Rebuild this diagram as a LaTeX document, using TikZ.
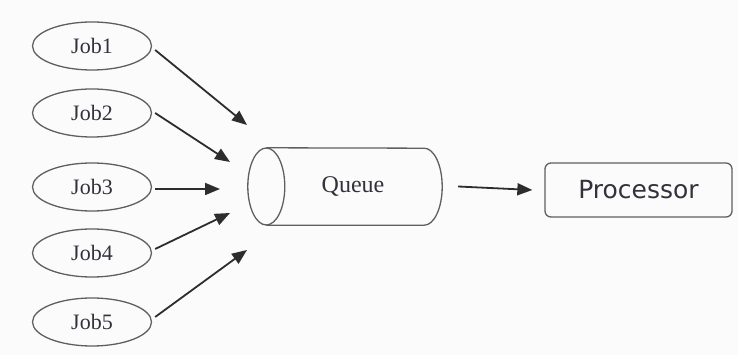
\documentclass[tikz,border=0pt]{standalone}
\usepackage{fontspec}
\setmainfont{Liberation Serif}
\newfontfamily\procfont{DejaVu Sans}
\usetikzlibrary{arrows.meta,shapes.geometric}
\definecolor{bgcol}{RGB}{251,251,251}
\definecolor{edgecol}{RGB}{95,95,95}
\definecolor{arrcol}{RGB}{45,45,45}
\definecolor{txtcol}{RGB}{50,50,60}
\tikzset{
  job/.style={ellipse, draw=edgecol, line width=1.3pt, minimum width=119pt, minimum height=48pt,
    inner sep=0pt, text=txtcol, font=\fontsize{22}{22}\selectfont},
  flow/.style={draw=arrcol, line width=1.8pt, -{Triangle[length=15pt,width=12pt]}},
  procbox/.style={draw=edgecol, line width=1.3pt, rounded corners=6pt, minimum width=187pt,
    minimum height=54pt, text=txtcol, font=\procfont\fontsize{25}{25}\selectfont},
}
\begin{document}
\begin{tikzpicture}[x=1pt,y=1pt]
  % canvas
  \fill[bgcol] (0,0) rectangle (738,355);
  \useasboundingbox (0,0) rectangle (738,355);

  % jobs
  \node[job] (j1) at (92,309) {Job1};
  \node[job] (j2) at (92,242) {Job2};
  \node[job] (j3) at (92,168) {Job3};
  \node[job] (j4) at (92,102) {Job4};
  \node[job] (j5) at (92,33)  {Job5};

  % queue drawn as a horizontal cylinder
  \node[minimum width=194pt, minimum height=77pt, inner sep=0pt, text=txtcol,
        font=\fontsize{24}{24}\selectfont] (q) at (345,168.5) {\hspace*{16pt}Queue};
  \draw[edgecol, line width=1.3pt]
    ([xshift=18.5pt]q.south west) -- ([xshift=-18pt]q.south east)
    arc[start angle=-90, end angle=90, x radius=18pt, y radius=38.5pt]
    -- ([xshift=18.5pt]q.north west);
  \draw[edgecol, line width=1.3pt] ([xshift=18.5pt]q.west) ellipse[x radius=18.5pt, y radius=38.5pt];

  % processor
  \node[procbox] (p) at (638.5,165) {Processor};

  % arrow ends in front of the queue
  \coordinate (t1) at (247,230);
  \coordinate (t2) at (230,193);
  \coordinate (t3) at (220,166);
  \coordinate (t4) at (230,142);
  \coordinate (t5) at (247,105);

  \draw[flow] ([shift={(3,-4)}]j1.east) -- (t1);
  \draw[flow] ([shift={(3,0)}]j2.east) -- (t2);
  \draw[flow] ([shift={(3,-2)}]j3.east) -- (t3);
  \draw[flow] ([shift={(3,4)}]j4.east) -- (t4);
  \draw[flow] ([shift={(3,5)}]j5.east) -- (t5);

  \draw[flow] ([xshift=16pt,yshift=0pt]q.east) -- ([xshift=-12pt]p.west);
\end{tikzpicture}
\end{document}
